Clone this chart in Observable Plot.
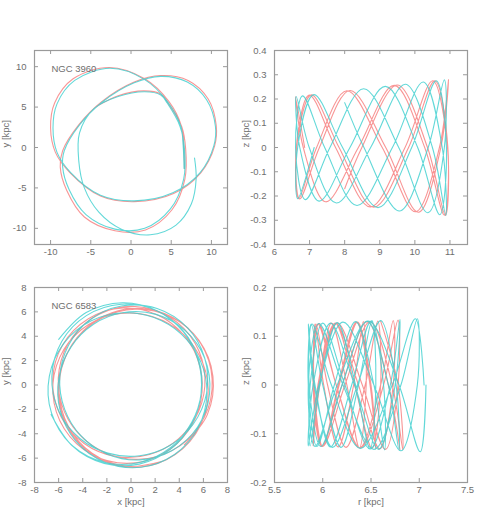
<!DOCTYPE html>
<html><head><meta charset="utf-8">
<script src="https://cdn.jsdelivr.net/npm/d3@7"></script>
<script src="https://cdn.jsdelivr.net/npm/@observablehq/plot@0.6"></script>
<style>
html,body{margin:0;padding:0;background:#fff;}
#chart{position:relative;width:491px;height:517px;overflow:hidden;background:#fff;}
#chart svg{position:absolute;}
</style></head><body><div id="chart"></div>
<script>
// ---------- NGC 3960 : orbit in the galactic plane, x / y (kpc), traced waypoints
const n3960_xy_cyan_x = [6.6,6.5,6.2,4.6,1.7,-2.6,-7.0,-9.2,-9.7,-9.2,-7.5,-3.8,0.4,5.2,8.6,10.3,10.5,9.4,7.0,3.7,0.4,-3.6,-6.4,-8.3,-8.5,-7.7,-5.6,-2.0,1.7,4.9,6.55,6.65,6.1,4.5,3.7,1.7,-1.6,-4.6,-6.4,-6.5,-5.8,-4.0,-1.2,2.4,5.6,7.5,8.1,7.9];
const n3960_xy_cyan_y = [-2.6,0.0,2.6,5.6,8.4,9.8,8.3,5.4,2.4,-0.6,-3.1,-5.9,-6.6,-5.6,-3.1,0.2,2.6,5.9,8.1,8.8,8.0,5.6,2.8,-0.4,-2.4,-5.2,-8.3,-10.1,-10.0,-7.6,-3.9,-0.2,2.6,5.5,6.5,6.9,6.3,4.8,1.8,-1.6,-5.0,-8.0,-10.1,-10.8,-9.6,-7.0,-3.9,-1.3];
const n3960_xy_red_x = [6.65,6.55,6.25,4.7,1.7,-2.7,-7.2,-9.5,-10.0,-9.4,-7.6,-3.8,0.4,5.3,8.7,10.4,10.6,9.6,7.1,3.7,0.4,-3.6,-6.5,-8.5,-8.8,-8.0,-5.8,-2.0,1.8,5.1,6.7,6.8,6.3,4.6,3.7,1.6,-1.6,-4.4];
const n3960_xy_red_y = [-2.6,0.0,2.7,5.7,8.5,9.9,8.5,5.5,2.4,-0.6,-3.1,-6.0,-6.7,-5.7,-3.1,0.2,2.7,6.0,8.3,8.9,8.1,5.7,2.8,-0.4,-2.4,-5.3,-8.6,-10.3,-10.2,-7.7,-3.9,-0.2,2.6,5.5,6.6,7.0,6.4,5.0];

// ---------- NGC 3960 : r-z (kpc)
const n3960_rz_red_r = [6.86,6.60,6.82,7.46,8.39,9.41,10.28,10.84,10.94,10.57,9.82,8.83,7.84,7.05,6.63,6.69,7.20,8.06,9.07,10.02,10.70,10.96,10.74,10.10,9.17,8.15,7.28,6.72,6.62,6.99,7.74,8.73,9.72,10.51,10.93,10.87,10.36,9.50,8.49,8.00];
const n3960_rz_red_z = [0,0.210,0,-0.224,0,0.256,0,-0.279,0,0.275,0,-0.246,0,0.217,0,-0.211,0,0.234,0,-0.265,0,0.280,0,-0.267,0,0.235,0,-0.212,0,0.216,0,-0.245,0,0.275,0,-0.280,0,0.258,0,-0.170];
const n3960_rz_cyan_r = [7.13,6.66,6.66,7.12,7.94,8.95,9.91,10.61,10.90,10.71,10.08,9.16,8.15,7.27,6.72,6.62,6.99,7.76,8.74,9.73,10.50,10.88,10.78,10.24,9.36,8.35,7.43,6.80,6.60,6.88,7.58,8.54,9.54,10.37,10.84,10.84,10.38,9.56,8.55,8.00];
const n3960_rz_cyan_z = [0,-0.211,0,0.218,0,-0.248,0,0.275,0,-0.277,0,0.252,0,-0.221,0,0.210,0,-0.229,0,0.261,0,-0.280,0,0.270,0,-0.239,0,0.213,0,-0.215,0,0.242,0,-0.269,0,0.279,0,-0.262,0,0.185];

// ---------- NGC 6583 : orbit samples (azimuth deg, r kpc, z kpc)
const n6583_red_phi = [-48,-21,6,33,60,87,114,141,168,195,222,249,276,303,330,357,384,411,438,465,492,519,546,573,600,627,654,681,708,735,762,789,816,843,870,897,924,951,978,1005,1032,1059,1086,1113,1140,1167,1194,1221,1248,1275,1302,1329,1356,1383,1410,1437,1464,1491,1518,1545,1572,1599,1626,1653,1680,1707,1734];
const n6583_red_r = [6.60,6.78,6.83,6.72,6.49,6.23,6.00,5.90,5.95,6.14,6.39,6.63,6.78,6.78,6.65,6.41,6.15,5.96,5.90,5.97,6.13,6.33,6.51,6.60,6.57,6.44,6.24,6.05,5.93,5.91,6.00,6.16,6.35,6.49,6.55,6.50,6.36,6.17,6.00,5.91,5.92,6.01,6.16,6.32,6.42,6.45,6.38,6.25,6.09,5.96,5.90,5.95,6.13,6.37,6.59,6.73,6.73,6.60,6.38,6.14,5.96,5.90,5.99,6.20,6.46,6.68,6.80];
const n6583_red_z = [0.131,0,-0.133,0,0.130,0,-0.126,0,0.125,0,-0.129,0,0.133,0,-0.132,0,0.127,0,-0.125,0,0.127,0,-0.130,0,0.131,0,-0.128,0,0.125,0,-0.126,0,0.129,0,-0.131,0,0.129,0,-0.126,0,0.125,0,-0.127,0,0.130,0,-0.129,0,0.127,0,-0.125,0,0.127,0,-0.131,0,0.132,0,-0.129,0,0.126,0,-0.126,0,0.130,0,-0.133];
const n6583_cyan_phi = [200,226,251,277,303,329,354,380,406,431,457,483,508,534,560,586,611,637,663,688,714,740,765,791,817,843,868,894,920,945,971,997,1022,1048,1074,1100,1125,1151,1177,1202,1228,1254,1279,1305,1331,1357,1382,1408,1434,1459,1485,1511,1536,1562,1588,1614,1639,1665,1691,1716,1742,1768,1793,1819,1845,1871,1896,1922,1948];
const n6583_cyan_r = [7.05,6.96,6.72,6.39,6.09,5.89,5.86,5.98,6.20,6.46,6.68,6.79,6.76,6.60,6.36,6.10,5.91,5.85,5.92,6.08,6.30,6.50,6.63,6.64,6.53,6.34,6.12,5.94,5.85,5.88,6.00,6.19,6.37,6.51,6.55,6.49,6.34,6.15,5.97,5.87,5.87,6.00,6.23,6.49,6.70,6.80,6.75,6.58,6.33,6.08,5.90,5.85,5.96,6.21,6.53,6.81,6.98,6.98,6.81,6.53,6.21,5.96,5.85,5.92,6.15,6.47,6.79,7.01,7.07];
const n6583_cyan_z = [0,0.136,0,-0.130,0,0.125,0,-0.126,0,0.131,0,-0.134,0,0.132,0,-0.128,0,0.125,0,-0.127,0,0.131,0,-0.133,0,0.130,0,-0.126,0,0.125,0,-0.128,0,0.132,0,-0.131,0,0.128,0,-0.125,0,0.127,0,-0.131,0,0.135,0,-0.132,0,0.127,0,-0.125,0,0.129,0,-0.135,0,0.136,0,-0.132,0,0.126,0,-0.126,0,0.131,0,-0.137,0];

// ---------- ticks and labels
const ticksXY3960 = [-10,-5,0,5,10];
const ticksR3960 = [6,7,8,9,10,11];
const ticksZ3960 = [-0.4,-0.3,-0.2,-0.1,0,0.1,0.2,0.3,0.4];
const ticksXY6583 = [-8,-6,-4,-2,0,2,4,6,8];
const ticksR6583 = [5.5,6,6.5,7,7.5];
const ticksZ6583 = [-0.2,-0.1,0,0.1,0.2];
const names = ["NGC 3960","NGC 6583"];

const RED = "#f67e7e", CYAN = "#40cfcf", AXIS = "#9a9a9a", TEXT = "#6e6e6e";

const polar = (phi, r) => phi.map((p,i)=>({x: r[i]*Math.cos(p*Math.PI/180), y: r[i]*Math.sin(p*Math.PI/180)}));
const pairs = (a, b) => a.map((v,i)=>({x: v, y: b[i]}));

function panel(p){
  const innerW = p.width - p.ml - p.mr, innerH = p.height - p.mt - p.mb;
  const marks = [];
  for (const s of p.series) marks.push(Plot.line(s.rows, {x:"x", y:"y", stroke: s.color, strokeWidth: 1.1, strokeOpacity: 0.82, curve: "catmull-rom"}));
  marks.push(Plot.frame({stroke: AXIS, strokeWidth: 1.2}));
  marks.push(Plot.tickX(p.xTicks, {x: d=>d, insetTop: innerH-4, stroke: AXIS}));
  marks.push(Plot.tickX(p.xTicks, {x: d=>d, insetBottom: innerH-4, stroke: AXIS}));
  marks.push(Plot.tickY(p.yTicks, {y: d=>d, insetRight: innerW-4, stroke: AXIS}));
  marks.push(Plot.tickY(p.yTicks, {y: d=>d, insetLeft: innerW-4, stroke: AXIS}));
  marks.push(Plot.text(p.xTicks, {x: d=>d, frameAnchor: "bottom", dy: 10, text: d=>String(d), fill: TEXT}));
  marks.push(Plot.text(p.yTicks, {y: d=>d, frameAnchor: "left", dx: -8, textAnchor: "end", text: d=>String(d), fill: TEXT}));
  if (p.yLabel) marks.push(Plot.text([p.yLabel], {frameAnchor: "left", dx: -29, rotate: -90, text: d=>d, fill: TEXT}));
  if (p.xLabel) marks.push(Plot.text([p.xLabel], {frameAnchor: "bottom", dy: 22, text: d=>d, fill: TEXT}));
  if (p.name) marks.push(Plot.text([p.name], {frameAnchor: "top-left", dx: 17, dy: 15, textAnchor: "start", text: d=>d, fill: TEXT}));
  const svg = Plot.plot({
    width: p.width, height: p.height,
    marginLeft: p.ml, marginRight: p.mr, marginTop: p.mt, marginBottom: p.mb,
    x: {domain: p.xDomain, axis: null},
    y: {domain: p.yDomain, axis: null},
    style: {fontFamily: "'Liberation Sans', Arial, sans-serif", fontSize: "9.5px", background: "none", overflow: "visible"},
    marks
  });
  svg.style.left = p.left + "px";
  svg.style.top = p.top + "px";
  document.getElementById("chart").appendChild(svg);
}

panel({left:0, top:40, width:245, height:230, ml:34, mr:18, mt:10, mb:26,
  xDomain:[-12,12], yDomain:[-12,12], xTicks: ticksXY3960, yTicks: ticksXY3960,
  yLabel: "y [kpc]", name: names[0],
  series: [{rows: pairs(n3960_xy_red_x, n3960_xy_red_y), color: RED}, {rows: pairs(n3960_xy_cyan_x, n3960_xy_cyan_y), color: CYAN}]});
panel({left:240, top:40, width:251, height:230, ml:34, mr:24, mt:10, mb:26,
  xDomain:[6,11.5], yDomain:[-0.4,0.4], xTicks: ticksR3960, yTicks: ticksZ3960,
  yLabel: "z [kpc]",
  series: [{rows: pairs(n3960_rz_red_r, n3960_rz_red_z), color: RED}, {rows: pairs(n3960_rz_cyan_r, n3960_rz_cyan_z), color: CYAN}]});
panel({left:0, top:277, width:245, height:240, ml:34, mr:18, mt:10, mb:35,
  xDomain:[-8,8], yDomain:[-8,8], xTicks: ticksXY6583, yTicks: ticksXY6583,
  yLabel: "y [kpc]", xLabel: "x [kpc]", name: names[1],
  series: [{rows: polar(n6583_red_phi, n6583_red_r), color: RED}, {rows: polar(n6583_cyan_phi, n6583_cyan_r), color: CYAN}]});
panel({left:240, top:277, width:251, height:240, ml:34, mr:24, mt:10, mb:35,
  xDomain:[5.5,7.5], yDomain:[-0.2,0.2], xTicks: ticksR6583, yTicks: ticksZ6583,
  yLabel: "z [kpc]", xLabel: "r [kpc]",
  series: [{rows: pairs(n6583_red_r, n6583_red_z), color: RED}, {rows: pairs(n6583_cyan_r, n6583_cyan_z), color: CYAN}]});
</script></body></html>
